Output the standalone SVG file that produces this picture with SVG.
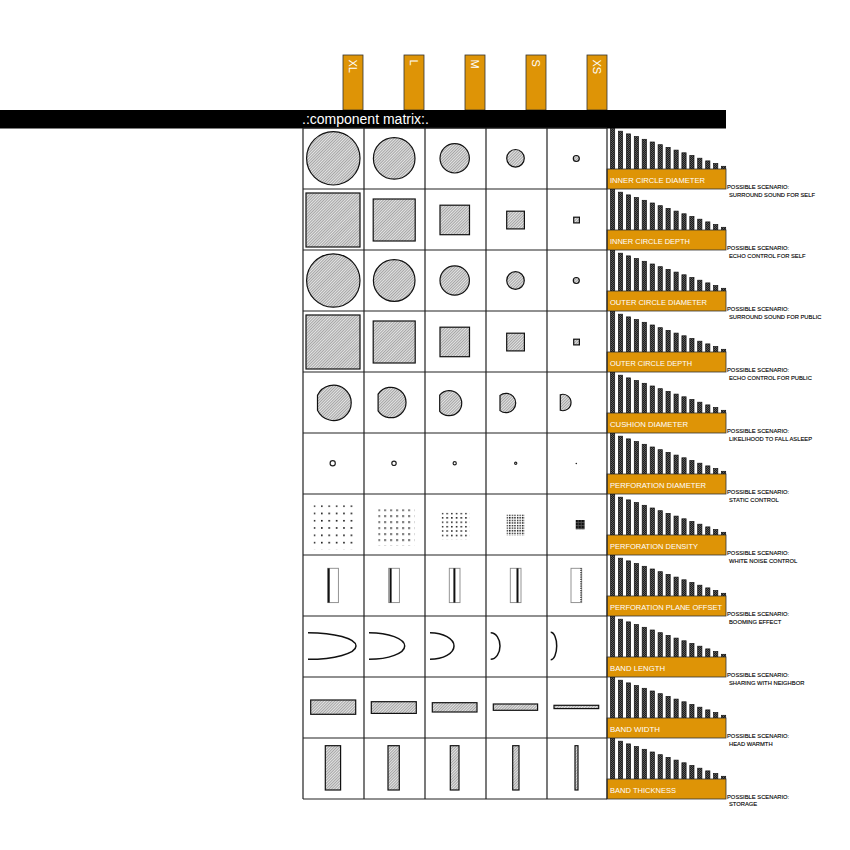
<svg xmlns="http://www.w3.org/2000/svg" width="850" height="850" viewBox="0 0 850 850">
<style>
.grid{stroke:#222;stroke-width:1.2;fill:none}
.shp{fill:url(#hatch);stroke:#111;stroke-width:1.2}
.tab{fill:#DE9406;stroke:#333;stroke-width:0.8}
.tabt{font-family:"Liberation Sans",Arial,sans-serif;font-size:11px;fill:#fff}
.lbl{fill:#DE9406;stroke:#333;stroke-width:0.8}
.lblt{font-family:"Liberation Sans",Arial,sans-serif;font-size:7.8px;fill:#fff}
.sc{font-family:"Liberation Sans",Arial,sans-serif;font-size:5.8px;fill:#000;stroke:#000;stroke-width:0.12}
.bar{fill:url(#dark);stroke:#111;stroke-width:0.7}
.ring{fill:none;stroke:#222;stroke-width:1.2}
.curve{fill:none;stroke:#111;stroke-width:1.5}
.pbox{fill:#fff;stroke:#888;stroke-width:0.9}
.pline{stroke:#111;stroke-width:2}
</style>
<defs>
<pattern id="hatch" width="2" height="2" patternUnits="userSpaceOnUse" patternTransform="rotate(45)">
<rect width="2" height="2" fill="#e4e4e4"/>
<line x1="0.5" y1="0" x2="0.5" y2="2" stroke="#8a8a8a" stroke-width="0.7"/>
</pattern>
<pattern id="dark" width="2" height="2" patternUnits="userSpaceOnUse">
<rect width="2" height="2" fill="#1c1c1c"/>
<rect width="1" height="1" fill="#5a5a5a"/>
<rect x="1" y="1" width="1" height="1" fill="#5a5a5a"/>
</pattern>
<pattern id="chk" x="575.7" y="520" width="3" height="3" patternUnits="userSpaceOnUse">
<rect width="3" height="3" fill="#111"/>
<rect x="2.2" width="0.8" height="3" fill="#555"/>
<rect y="2.2" width="3" height="0.8" fill="#555"/>
</pattern>
<pattern id="d1" x="313.6" y="505.3" width="7.4" height="7.3" patternUnits="userSpaceOnUse"><rect width="1.6" height="1.6" fill="#111"/></pattern>
<pattern id="d2" x="378.3" y="509.3" width="6" height="6" patternUnits="userSpaceOnUse"><rect width="1.6" height="1.6" fill="#111"/></pattern>
<pattern id="d3" x="441.7" y="512.7" width="4.7" height="4.4" patternUnits="userSpaceOnUse"><rect width="1.5" height="1.5" fill="#111"/></pattern>
<pattern id="d4" x="506.5" y="514.5" width="2.6" height="2.6" patternUnits="userSpaceOnUse"><rect width="1.4" height="1.4" fill="#111"/></pattern>
<g id="bars">
<rect class="bar" x="610.5" y="0.5" width="4.2" height="40.5"/>
<rect class="bar" x="618.4" y="3.2" width="4.2" height="37.8"/>
<rect class="bar" x="626.4" y="5.9" width="4.2" height="35.1"/>
<rect class="bar" x="634.3" y="8.6" width="4.2" height="32.4"/>
<rect class="bar" x="642.2" y="11.3" width="4.2" height="29.7"/>
<rect class="bar" x="650.2" y="14" width="4.2" height="27"/>
<rect class="bar" x="658.1" y="16.7" width="4.2" height="24.3"/>
<rect class="bar" x="666" y="19.4" width="4.2" height="21.6"/>
<rect class="bar" x="674" y="22.1" width="4.2" height="18.9"/>
<rect class="bar" x="681.9" y="24.8" width="4.2" height="16.2"/>
<rect class="bar" x="689.8" y="27.5" width="4.2" height="13.5"/>
<rect class="bar" x="697.7" y="30.2" width="4.2" height="10.8"/>
<rect class="bar" x="705.7" y="32.9" width="4.2" height="8.1"/>
<rect class="bar" x="713.6" y="35.6" width="4.2" height="5.4"/>
<rect class="bar" x="721.5" y="38.3" width="4.2" height="2.7"/>
<rect class="lbl" x="607" y="41" width="119" height="20"/>
</g>
</defs>
<rect width="850" height="850" fill="#fff"/>

<g id="size-tabs">
<g id="tab-xl"><rect class="tab" x="343" y="55" width="20" height="55"/><text class="tabt" transform="translate(349.3,59.5) rotate(90)">XL</text></g>
<g id="tab-l"><rect class="tab" x="404" y="55" width="20" height="55"/><text class="tabt" transform="translate(410.1,59.5) rotate(90)">L</text></g>
<g id="tab-m"><rect class="tab" x="465" y="55" width="20" height="55"/><text class="tabt" transform="translate(471,59.5) rotate(90)">M</text></g>
<g id="tab-s"><rect class="tab" x="526" y="55" width="20" height="55"/><text class="tabt" transform="translate(532,59.5) rotate(90)">S</text></g>
<g id="tab-xs"><rect class="tab" x="587" y="55" width="20" height="55"/><text class="tabt" transform="translate(593,59.5) rotate(90)">XS</text></g>
</g>

<g id="title-bar">
<rect x="0" y="110" width="726" height="18.5" fill="#000"/>
<text x="302" y="124" font-family="'Liberation Sans',Arial,sans-serif" font-size="14" fill="#fff">.:component matrix:.</text>
</g>

<g id="charts">
<use href="#bars" y="128"/>
<use href="#bars" y="189"/>
<use href="#bars" y="250"/>
<use href="#bars" y="311"/>
<use href="#bars" y="372"/>
<use href="#bars" y="433"/>
<use href="#bars" y="494"/>
<use href="#bars" y="555"/>
<use href="#bars" y="616"/>
<use href="#bars" y="677"/>
<use href="#bars" y="738"/>
</g>

<g id="grid" class="grid">
<path d="M303,128V799M364,128V799M425,128V799M486,128V799M547,128V799M607,128V799"/>
<path d="M303,128H607M303,189H607M303,250H607M303,311H607M303,372H607M303,433H607M303,494H607M303,555H607M303,616H607M303,677H607M303,738H607M303,799H607"/>
</g>

<g id="row-inner-circle-diameter">
<circle class="shp" cx="333.3" cy="158.3" r="26.7"/>
<circle class="shp" cx="394.2" cy="158.4" r="20.8"/>
<circle class="shp" cx="454.7" cy="158.3" r="14.7"/>
<circle class="shp" cx="515.5" cy="158.3" r="8.8"/>
<circle class="shp" cx="576.3" cy="158.5" r="3"/>
<text class="lblt" x="610" y="182.5" textLength="95" lengthAdjust="spacingAndGlyphs">INNER CIRCLE DIAMETER</text>
<text class="sc" x="727" y="189">POSSIBLE SCENARIO:</text>
<text class="sc" x="729" y="196.5">SURROUND SOUND FOR SELF</text>
</g>

<g id="row-inner-circle-depth">
<rect class="shp" x="306" y="193" width="54" height="54"/>
<rect class="shp" x="373.2" y="199" width="42" height="42"/>
<rect class="shp" x="440" y="205.2" width="29.5" height="29.5"/>
<rect class="shp" x="506.7" y="211.2" width="17.7" height="17.7"/>
<rect class="shp" x="573.7" y="217.2" width="5.7" height="5.7"/>
<text class="lblt" x="610" y="243.5" textLength="80" lengthAdjust="spacingAndGlyphs">INNER CIRCLE DEPTH</text>
<text class="sc" x="727" y="250">POSSIBLE SCENARIO:</text>
<text class="sc" x="729" y="257.5">ECHO CONTROL FOR SELF</text>
</g>

<g id="row-outer-circle-diameter">
<circle class="shp" cx="333.3" cy="280.5" r="26.7"/>
<circle class="shp" cx="394.2" cy="280.5" r="20.8"/>
<circle class="shp" cx="454.7" cy="280.5" r="14.7"/>
<circle class="shp" cx="515.5" cy="280.5" r="8.8"/>
<circle class="shp" cx="576.3" cy="280.5" r="3"/>
<text class="lblt" x="610" y="304.5" textLength="97" lengthAdjust="spacingAndGlyphs">OUTER CIRCLE DIAMETER</text>
<text class="sc" x="727" y="311">POSSIBLE SCENARIO:</text>
<text class="sc" x="729" y="318.5">SURROUND SOUND FOR PUBLIC</text>
</g>

<g id="row-outer-circle-depth">
<rect class="shp" x="306" y="315" width="54" height="54"/>
<rect class="shp" x="373.2" y="321" width="42" height="42"/>
<rect class="shp" x="440" y="327.2" width="29.5" height="29.5"/>
<rect class="shp" x="506.7" y="333.2" width="17.7" height="17.7"/>
<rect class="shp" x="573.7" y="339.2" width="5.7" height="5.7"/>
<text class="lblt" x="610" y="365.5" textLength="82" lengthAdjust="spacingAndGlyphs">OUTER CIRCLE DEPTH</text>
<text class="sc" x="727" y="372">POSSIBLE SCENARIO:</text>
<text class="sc" x="729" y="379.5">ECHO CONTROL FOR PUBLIC</text>
</g>

<g id="row-cushion-diameter">
<path class="shp" d="M317.5,395.3A17.7,17.7 0 1 1 317.5,410.3Z"/>
<path class="shp" d="M378.1,394.2A15.2,15.2 0 1 1 378.1,410.8Z"/>
<path class="shp" d="M439.7,395.1A12.5,12.5 0 1 1 439.7,411.3Z"/>
<path class="shp" d="M500,395.4A9.7,9.7 0 1 1 500,410.6Z"/>
<path class="shp" d="M560.3,394.7A8.2,8.2 0 1 1 560.3,410.3Z"/>
<text class="lblt" x="610" y="426.5" textLength="78" lengthAdjust="spacingAndGlyphs">CUSHION DIAMETER</text>
<text class="sc" x="727" y="433">POSSIBLE SCENARIO:</text>
<text class="sc" x="729" y="440.5">LIKELIHOOD TO FALL ASLEEP</text>
</g>

<g id="row-perforation-diameter">
<circle class="ring" cx="332.7" cy="463.3" r="2.6"/>
<circle class="ring" cx="394" cy="463.3" r="2.2"/>
<circle class="ring" cx="454.7" cy="463.3" r="1.6"/>
<circle class="ring" cx="515.7" cy="463.3" r="1.1"/>
<circle cx="576.3" cy="463.5" r="0.8" fill="#222"/>
<text class="lblt" x="610" y="487.5" textLength="96" lengthAdjust="spacingAndGlyphs">PERFORATION DIAMETER</text>
<text class="sc" x="727" y="494">POSSIBLE SCENARIO:</text>
<text class="sc" x="729" y="501.5">STATIC CONTROL</text>
</g>

<g id="row-perforation-density">
<rect x="313.6" y="505.3" width="44.4" height="43.8" fill="url(#d1)"/>
<rect x="378.3" y="509.3" width="36" height="36" fill="url(#d2)"/>
<rect x="441.7" y="512.7" width="28.2" height="26.4" fill="url(#d3)"/>
<rect x="506.5" y="514.5" width="18.2" height="20.8" fill="url(#d4)"/>
<rect x="575.7" y="520" width="9" height="9.3" fill="url(#chk)"/>
<text class="lblt" x="610" y="548.5" textLength="88" lengthAdjust="spacingAndGlyphs">PERFORATION DENSITY</text>
<text class="sc" x="727" y="555">POSSIBLE SCENARIO:</text>
<text class="sc" x="729" y="562.5">WHITE NOISE CONTROL</text>
</g>

<g id="row-perforation-plane-offset">
<rect class="pbox" x="327.7" y="568.3" width="10.7" height="34.3"/>
<line class="pline" x1="328.7" y1="568.3" x2="328.7" y2="602.6"/>
<rect class="pbox" x="388.7" y="568.3" width="10.7" height="34.3"/>
<line class="pline" x1="390.6" y1="568.3" x2="390.6" y2="602.6"/>
<rect class="pbox" x="449.3" y="568.3" width="10.7" height="34.3"/>
<line class="pline" x1="454.4" y1="568.3" x2="454.4" y2="602.6"/>
<rect class="pbox" x="510.3" y="568.3" width="10.7" height="34.3"/>
<line class="pline" x1="517.5" y1="568.3" x2="517.5" y2="602.6"/>
<rect class="pbox" x="571" y="568.3" width="10.7" height="34.3"/>
<line x1="581" y1="568.3" x2="581" y2="602.6" stroke="#333" stroke-width="1.4" stroke-dasharray="1,0.8"/>
<text class="lblt" x="610" y="609.5" textLength="112" lengthAdjust="spacingAndGlyphs">PERFORATION PLANE OFFSET</text>
<text class="sc" x="727" y="616">POSSIBLE SCENARIO:</text>
<text class="sc" x="729" y="623.5">BOOMING EFFECT</text>
</g>

<g id="row-band-length">
<path class="curve" d="M308,632.7A48,13.3 0 0 1 308,659.3"/>
<path class="curve" d="M369,632.7A35.7,13.3 0 0 1 369,659.3"/>
<path class="curve" d="M430,632.7A24,13.3 0 0 1 430,659.3"/>
<path class="curve" d="M490.7,632.7A9.3,13.3 0 0 1 490.7,659.3"/>
<path class="curve" d="M550.7,632.2A6,13.8 0 0 1 550.7,659.8"/>
<text class="lblt" x="610" y="670.5" textLength="55" lengthAdjust="spacingAndGlyphs">BAND LENGTH</text>
<text class="sc" x="727" y="677">POSSIBLE SCENARIO:</text>
<text class="sc" x="729" y="684.5">SHARING WITH NEIGHBOR</text>
</g>

<g id="row-band-width">
<rect class="shp" x="310.7" y="700" width="45" height="14.3"/>
<rect class="shp" x="371.3" y="701.7" width="45" height="11.7"/>
<rect class="shp" x="432.3" y="702.7" width="44.7" height="9.3"/>
<rect class="shp" x="493.3" y="704" width="44.3" height="6.3"/>
<rect class="shp" x="554" y="705.3" width="44.7" height="3.3"/>
<text class="lblt" x="610" y="731.5" textLength="50" lengthAdjust="spacingAndGlyphs">BAND WIDTH</text>
<text class="sc" x="727" y="738">POSSIBLE SCENARIO:</text>
<text class="sc" x="729" y="745.5">HEAD WARMTH</text>
</g>

<g id="row-band-thickness">
<rect class="shp" x="325.3" y="745.7" width="15.3" height="44.3"/>
<rect class="shp" x="388" y="745.7" width="11.3" height="44.3"/>
<rect class="shp" x="450.3" y="745.7" width="8.7" height="44.3"/>
<rect class="shp" x="512.7" y="745.7" width="6.3" height="44.3"/>
<rect class="shp" x="575" y="745.7" width="3" height="44.3"/>
<text class="lblt" x="610" y="792.5" textLength="66" lengthAdjust="spacingAndGlyphs">BAND THICKNESS</text>
<text class="sc" x="727" y="799">POSSIBLE SCENARIO:</text>
<text class="sc" x="729" y="806">STORAGE</text>
</g>
</svg>
